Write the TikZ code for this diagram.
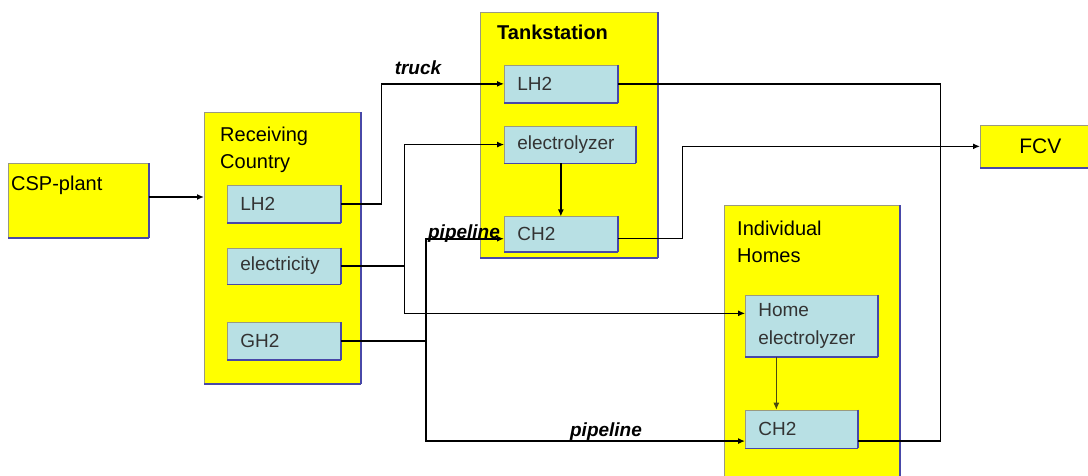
\documentclass[tikz,border=0pt]{standalone}
\usepackage{fontspec}
\setmainfont{Liberation Sans}
\usetikzlibrary{arrows.meta, positioning}
\definecolor{hyYellow}{HTML}{FFFF00}
\definecolor{hyIce}{HTML}{B8E0E4}
\definecolor{hyEdge}{HTML}{4848A8}
\definecolor{hyRim}{HTML}{9A9A80}
\definecolor{hyText}{HTML}{333333}
\definecolor{hyOlive}{HTML}{4A4A10}
\tikzset{
  rim/.style={draw=hyEdge, line width=1.6pt},
  shaded/.style={append after command={
    (\tikzlastnode.north east) edge[rim] (\tikzlastnode.south east)
    (\tikzlastnode.south east) edge[rim] (\tikzlastnode.south west)}},
  sitebox/.style={rectangle, draw=hyRim, line width=0.7pt, fill=hyYellow,
    anchor=north west, inner sep=0pt, shaded},
  unitbox/.style={rectangle, draw=hyRim, line width=0.7pt, fill=hyIce,
    anchor=north west, inner xsep=13pt, inner ysep=0pt, align=left,
    text=hyText, font=\fontsize{19}{28}\selectfont, shaded},
  sitetitle/.style={anchor=north west, inner sep=0pt, align=left,
    font=\fontsize{20}{27}\selectfont},
  route/.style={anchor=base, inner sep=0pt, font=\fontsize{19}{20}\selectfont\bfseries\itshape},
  flow/.style={line width=1.3pt, black},
  feed/.style={line width=2.3pt, black},
  tip/.style={-{Latex[length=7pt,width=6pt]}}
}
\begin{document}
\begin{tikzpicture}[x=1pt, y=-1pt]
  \useasboundingbox (0,0) rectangle (1088,475);
  \fill[white] (0,0) rectangle (1088,475);

  % sites
  \node[sitebox, minimum width=140pt, minimum height=74pt] (csp) at (8,163) {};
  \node[sitetitle, below right=13pt and 3pt of csp.north west] (cspTitle) {CSP-plant};

  \node[sitebox, minimum width=156pt, minimum height=271pt] (rc) at (204,112) {};
  \node[sitetitle, below right=15pt and 16pt of rc.north west] (rcTitle) {Receiving\\Country};

  \node[sitebox, minimum width=177pt, minimum height=245pt] (ts) at (480,12) {};
  \node[sitetitle, font=\fontsize{20}{27}\selectfont\bfseries,
    below right=13pt and 17pt of ts.north west] (tsTitle) {Tankstation};

  \node[sitebox, minimum width=175pt, minimum height=280pt] (ih) at (724,205) {};
  \node[sitetitle, below right=16pt and 13pt of ih.north west] (ihTitle) {Individual\\Homes};

  \node[sitebox, minimum width=120pt, minimum height=42pt,
    font=\fontsize{21}{24}\selectfont] (fcv) at (980,125) {FCV};

  % units
  \node[unitbox, text width=87pt, minimum height=37pt] (rcLH2) at (227,185) {LH2};
  \node[unitbox, text width=87pt, minimum height=36pt,
    below=25pt of rcLH2.south west, anchor=north west] (rcElec) {electricity};
  \node[unitbox, text width=87pt, minimum height=37pt,
    below=38pt of rcElec.south west, anchor=north west] (rcGH2) {GH2};

  \node[unitbox, text width=87pt, minimum height=37pt] (tsLH2) at (504,65) {LH2};
  \node[unitbox, text width=105pt, minimum height=37pt,
    below=23pt of tsLH2.south west, anchor=north west] (tsElec) {electrolyzer};
  \node[unitbox, text width=87pt, minimum height=35pt,
    below=53pt of tsElec.south west, anchor=north west] (tsCH2) {CH2};

  \node[unitbox, text width=106pt, minimum height=61pt] (ihElec) at (745,295) {Home\\electrolyzer};
  \node[unitbox, text width=86pt, minimum height=38pt,
    below=53pt of ihElec.south west, anchor=north west] (ihCH2) {CH2};

  % connectors
  \path (rcLH2.east) ++(41,0) coordinate (truckTurn);
  \path (rcElec.east) ++(64,0) coordinate (elSplit);
  \path (rcGH2.east) ++(85,0) coordinate (gasSplit);
  \path (tsLH2.east) ++(323,0) coordinate (lh2Bus);

  \draw[feed, tip] (csp.east |- 0,197) -- (rc.west |- 0,197);

  \draw[feed] (rcLH2.east) -- (truckTurn);
  \draw[flow, tip] (truckTurn) |- (tsLH2.west);

  \draw[feed] (rcElec.east) -- (elSplit);
  \draw[flow, line width=1pt, tip] (elSplit) |- (tsElec.west);
  \draw[flow, line width=1pt, tip] (elSplit) |- ([yshift=12.5pt]ihElec.west);

  \draw[feed] (rcGH2.east) -- (gasSplit);
  \draw[feed, tip] (gasSplit) |- ([yshift=-4.5pt]tsCH2.west);
  \draw[feed, tip] (gasSplit) |- ([yshift=-12pt]ihCH2.west);

  \draw[flow, tip] (tsElec.south -| tsCH2.north) -- (tsCH2.north);
  \draw[flow, line width=1pt, hyOlive, tip] ([xshift=-25pt]ihCH2.north |- ihElec.south)
    -- ([xshift=-25pt]ihCH2.north);

  \draw[flow] (tsLH2.east) -- (lh2Bus) |- ([yshift=-12pt]ihCH2.east);
  \draw[flow, tip] ([yshift=-4.5pt]tsCH2.east) -- ++(65,0) |- (fcv.west);

  % route labels
  \node[route] (truckLbl) at (418,74) {truck};
  \node[route] (pipeTopLbl) at (464,238) {pipeline};
  \node[route] (pipeLowLbl) at (606,436) {pipeline};
\end{tikzpicture}
\end{document}
